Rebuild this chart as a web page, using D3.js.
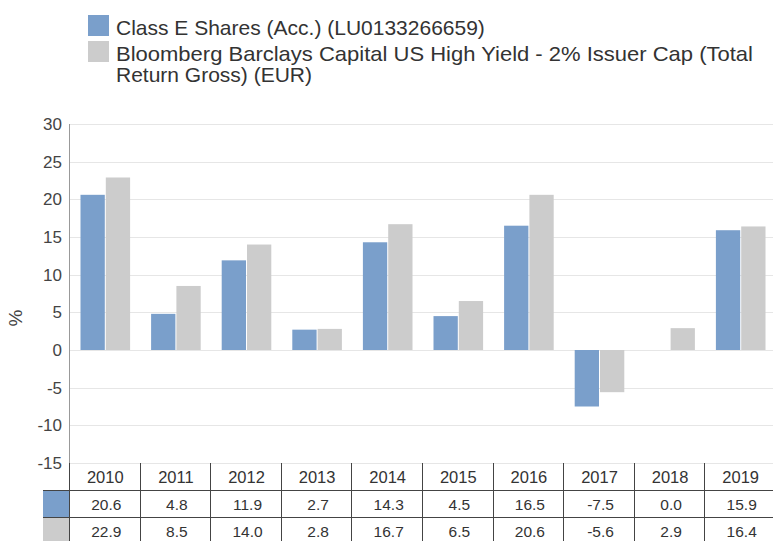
<!DOCTYPE html>
<html>
<head>
<meta charset="utf-8">
<script src="https://cdn.jsdelivr.net/npm/d3@7"></script>
<style>
  body { margin: 0; background: #fff; }
  svg { font-family: "Liberation Sans", Arial, sans-serif; }
</style>
</head>
<body>
<div id="chart"></div>
<script>
// data
var years = ["2010", "2011", "2012", "2013", "2014", "2015", "2016", "2017", "2018", "2019"];
var fundValues = [20.6, 4.8, 11.9, 2.7, 14.3, 4.5, 16.5, -7.5, 0.0, 15.9];
var benchValues = [22.9, 8.5, 14.0, 2.8, 16.7, 6.5, 20.6, -5.6, 2.9, 16.4];
var seriesNames = ["Class E Shares (Acc.) (LU0133266659)",
    "Bloomberg Barclays Capital US High Yield - 2% Issuer Cap (Total",
    "Return Gross) (EUR)"];
var yTicks = [30, 25, 20, 15, 10, 5, 0, -5, -10, -15];

function drawChart() {
    var width = 773;
    var height = 541;
    var colors = ["#7a9fcb", "#cccccc"];

    var svg = d3.select("#chart")
        .append("svg")
        .attr("width", width)
        .attr("height", height);

    // the plot runs a little past the right edge of the picture
    var plotLeft = 70, plotRight = 776, plotTop = 124, plotBottom = 463;

    var x = d3.scaleBand()
        .domain(years)
        .range([plotLeft, plotRight]);

    // two bars per year, about 24px each
    var xInner = d3.scaleBand()
        .domain([0, 1])
        .range([10.5, x.bandwidth() - 10.5])
        .paddingInner(0.04);

    var y = d3.scaleLinear()
        .domain([-15, 30])
        .range([plotBottom, plotTop]);

    // grid lines
    svg.append("g")
        .selectAll("line")
        .data(yTicks)
        .join("line")
        .attr("x1", plotLeft)
        .attr("x2", plotRight)
        .attr("y1", d => Math.round(y(d)) + 0.5)
        .attr("y2", d => Math.round(y(d)) + 0.5)
        .attr("stroke", "#e6e6e6");

    // y axis labels
    svg.append("g")
        .selectAll("text")
        .data(yTicks)
        .join("text")
        .attr("x", 62)
        .attr("y", d => y(d))
        .attr("dy", "0.36em")
        .attr("text-anchor", "end")
        .attr("font-size", 17)
        .attr("fill", "#444")
        .text(d => d);

    svg.append("text")
        .attr("transform", "translate(22, 318) rotate(-90)")
        .attr("text-anchor", "middle")
        .attr("font-size", 19)
        .attr("fill", "#444")
        .text("%");

    // bars
    var rows = years.map((yr, i) => ({year: yr, vals: [fundValues[i], benchValues[i]]}));

    var groups = svg.append("g")
        .selectAll("g")
        .data(rows)
        .join("g")
        .attr("transform", d => "translate(" + x(d.year) + ",0)");

    groups.selectAll("rect")
        .data(d => d.vals.map((v, k) => ({k: k, v: v})))
        .join("rect")
        .attr("x", d => xInner(d.k))
        .attr("width", xInner.bandwidth())
        .attr("y", d => y(Math.max(0, d.v)))
        .attr("height", d => Math.abs(y(d.v) - y(0)))
        .attr("fill", d => colors[d.k]);

    // left axis line
    svg.append("line")
        .attr("x1", plotLeft - 0.5).attr("x2", plotLeft - 0.5)
        .attr("y1", plotTop).attr("y2", plotBottom)
        .attr("stroke", "#999");

    // data table
    var rowTops = [plotBottom, 490, 517, height];
    var table = svg.append("g");

    years.forEach(function (yr, i) {
        var cx = x(yr) + x.bandwidth() / 2;
        table.append("text")
            .attr("x", cx)
            .attr("y", 483)
            .attr("text-anchor", "middle")
            .attr("font-size", 16.5)
            .attr("fill", "#333")
            .text(yr);
        [fundValues[i], benchValues[i]].forEach(function (v, k) {
            table.append("text")
                .attr("x", cx + 1)
                .attr("y", rowTops[k + 1] + 20)
                .attr("text-anchor", "middle")
                .attr("font-size", 15.5)
                .attr("fill", "#333")
                .text(v.toFixed(1));
        });
    });

    // table swatches
    [0, 1].forEach(function (k) {
        table.append("rect")
            .attr("x", 43)
            .attr("y", rowTops[k + 1])
            .attr("width", 27)
            .attr("height", rowTops[k + 2] - rowTops[k + 1])
            .attr("fill", colors[k]);
    });

    // table grid (no right border, it falls off the picture)
    years.forEach(function (yr) {
        var xx = Math.round(x(yr)) - 0.5;
        table.append("line")
            .attr("x1", xx).attr("x2", xx)
            .attr("y1", plotBottom).attr("y2", height)
            .attr("stroke", "#444");
    });
    [1, 2].forEach(function (r) {
        table.append("line")
            .attr("x1", 43).attr("x2", plotRight)
            .attr("y1", rowTops[r] + 0.5)
            .attr("y2", rowTops[r] + 0.5)
            .attr("stroke", "#444");
    });

    // legend
    var legend = svg.append("g");
    legend.append("rect").attr("x", 88).attr("y", 15).attr("width", 21).attr("height", 21).attr("fill", colors[0]);
    legend.append("rect").attr("x", 88).attr("y", 41).attr("width", 21).attr("height", 21).attr("fill", colors[1]);
    legend.append("text").attr("x", 116).attr("y", 35).attr("font-size", 21).attr("fill", "#333").text(seriesNames[0]);
    legend.append("text").attr("x", 116).attr("y", 61).attr("font-size", 21).attr("fill", "#333")
        .attr("textLength", 637).attr("lengthAdjust", "spacingAndGlyphs").text(seriesNames[1]);
    legend.append("text").attr("x", 116).attr("y", 82).attr("font-size", 21).attr("fill", "#333").text(seriesNames[2]);
}

drawChart();
</script>
</body>
</html>
